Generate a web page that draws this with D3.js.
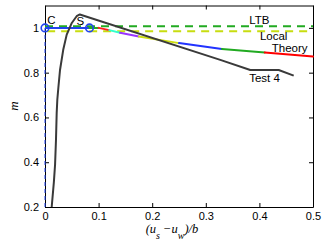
<!DOCTYPE html>
<html>
<head>
<meta charset="utf-8">
<script src="https://cdn.jsdelivr.net/npm/d3@7"></script>
<style>
  body { margin: 0; background: #fff; }
  svg { display: block; }
  .tick text { font-family: "Liberation Sans", Arial, sans-serif; font-size: 11px; }
  .lbl { font-family: "Liberation Sans", Arial, sans-serif; font-size: 11.5px; fill: #000; }
</style>
</head>
<body>
<div id="chart"></div>
<script>
var width = 327,
    height = 245;

// test curve
var test4X = [0.0125, 0.0165, 0.0188, 0.0205, 0.0218, 0.023, 0.025, 0.028, 0.034, 0.0405, 0.050, 0.059, 0.065, 0.327, 0.383, 0.436, 0.464];
var test4M = [0.20, 0.31, 0.39, 0.50, 0.62, 0.68, 0.735, 0.812, 0.902, 0.97, 1.022, 1.052, 1.06, 0.857, 0.812, 0.812, 0.787];

// theory curve, one colour per piece
var theoryX = [0.083, 0.10, 0.12, 0.14, 0.175, 0.25, 0.33, 0.41, 0.5];
var theoryM = [1.0, 1.0, 0.99, 0.978, 0.962, 0.932, 0.906, 0.89, 0.872];
var theoryColors = ["#22aa22", "#ff2020", "#33ffcc", "#9933ff", "#ccdd11", "#2233ff", "#22aa22", "#ff0000"];

// limits
var ltbM = 1.007,
    localM = 0.985;

// C and S points
var pointNames = ["C", "S"];
var pointX = [0, 0.083];
var pointM = [1.0, 1.0];

var xTicks = [0, 0.1, 0.2, 0.3, 0.4, 0.5];
var yTicks = [0.2, 0.4, 0.6, 0.8, 1.0];

var x = d3.scaleLinear().domain([0, 0.5]).range([45, 313]);
var y = d3.scaleLinear().domain([0.2, 1.1]).range([207, 5.5]);

var svg = d3.select("#chart").append("svg")
    .attr("width", width)
    .attr("height", height);

var line = d3.line()
    .x(function(d) { return x(d[0]); })
    .y(function(d) { return y(d[1]); });

// axes, ticks inward on all four sides
var fmtY = function(d) { return d === 1 ? "1" : d3.format(".1f")(d); };
var fmtX = function(d) { return d === 0 ? "0" : d3.format(".1f")(d); };

svg.append("g")
    .attr("transform", "translate(0,207)")
    .call(d3.axisBottom(x).tickValues(xTicks).tickFormat(fmtX).tickSizeInner(-4).tickSizeOuter(0).tickPadding(5));
svg.append("g")
    .attr("transform", "translate(0,5.5)")
    .call(d3.axisTop(x).tickValues(xTicks).tickFormat("").tickSizeInner(-4).tickSizeOuter(0));
svg.append("g")
    .attr("transform", "translate(45,0)")
    .call(d3.axisLeft(y).tickValues(yTicks).tickFormat(fmtY).tickSizeInner(-4).tickSizeOuter(0).tickPadding(6));
svg.append("g")
    .attr("transform", "translate(313,0)")
    .call(d3.axisRight(y).tickValues(yTicks).tickFormat("").tickSizeInner(-4).tickSizeOuter(0));

svg.selectAll(".domain").attr("stroke", "#000");
svg.selectAll(".tick line").attr("stroke", "#000");

// vertical dashed line at 0
svg.append("path")
    .datum([[0, 0.2], [0, 1.0]])
    .attr("d", line)
    .attr("fill", "none")
    .attr("stroke", "#2244ee")
    .attr("stroke-width", 1)
    .attr("stroke-dasharray", "4,3");

// LTB and Local dashed limits
svg.append("path")
    .datum([[0, ltbM], [0.5, ltbM]])
    .attr("d", line)
    .attr("fill", "none")
    .attr("stroke", "#22aa22")
    .attr("stroke-width", 2)
    .attr("stroke-dasharray", "8,6");
svg.append("path")
    .datum([[0.004, localM], [0.5, localM]])
    .attr("d", line)
    .attr("fill", "none")
    .attr("stroke", "#c8dd10")
    .attr("stroke-width", 2)
    .attr("stroke-dasharray", "8,6");

// C - S line
svg.append("path")
    .datum(pointX.map(function(d, i) { return [d, pointM[i]]; }))
    .attr("d", line)
    .attr("fill", "none")
    .attr("stroke", "#2244ee")
    .attr("stroke-width", 2);

// theory pieces
var theorySegs = theoryColors.map(function(c, i) {
  return { color: c, pts: [[theoryX[i], theoryM[i]], [theoryX[i + 1], theoryM[i + 1]]] };
});
svg.selectAll(".theory")
    .data(theorySegs)
  .enter().append("path")
    .attr("class", "theory")
    .attr("d", function(d) { return line(d.pts); })
    .attr("fill", "none")
    .attr("stroke", function(d) { return d.color; })
    .attr("stroke-width", 2)
    .attr("stroke-linecap", "round");

// test 4
svg.append("path")
    .datum(test4X.map(function(d, i) { return [d, test4M[i]]; }))
    .attr("d", line)
    .attr("fill", "none")
    .attr("stroke", "#3a3a3a")
    .attr("stroke-width", 2)
    .attr("stroke-linejoin", "round");

// C and S markers
svg.selectAll(".pt")
    .data(pointX)
  .enter().append("circle")
    .attr("class", "pt")
    .attr("cx", function(d) { return x(d); })
    .attr("cy", function(d, i) { return y(pointM[i]); })
    .attr("r", 3.8)
    .attr("fill", "none")
    .attr("stroke", "#2244ee")
    .attr("stroke-width", 1.6);

// annotations
var labels = [
  { t: "C", x: 0.004, m: 1.017 },
  { t: "S", x: 0.059, m: 1.012 },
  { t: "LTB", x: 0.381, m: 1.019 },
  { t: "Local", x: 0.401, m: 0.947 },
  { t: "Theory", x: 0.423, m: 0.893 },
  { t: "Test 4", x: 0.381, m: 0.759 }
];
svg.selectAll(".lbl")
    .data(labels)
  .enter().append("text")
    .attr("class", "lbl")
    .attr("x", function(d) { return x(d.x); })
    .attr("y", function(d) { return y(d.m); })
    .text(function(d) { return d.t; });

// axis titles
svg.append("text")
    .attr("transform", "translate(18,106) rotate(-90)")
    .attr("text-anchor", "middle")
    .style("font-family", "'Liberation Serif', serif")
    .style("font-style", "italic")
    .style("font-size", "13px")
    .text("m");

var xt = svg.append("text")
    .attr("x", 172)
    .attr("y", 233)
    .attr("text-anchor", "middle")
    .style("font-family", "'Liberation Serif', serif")
    .style("font-style", "italic")
    .style("font-size", "12.5px");
xt.append("tspan").text("(u");
xt.append("tspan").attr("dy", 6).style("font-size", "10px").text("s");
xt.append("tspan").attr("dy", -6).text(" \u2212u");
xt.append("tspan").attr("dy", 6).style("font-size", "10px").text("w");
xt.append("tspan").attr("dy", -6).text(")/b");
</script>
</body>
</html>
